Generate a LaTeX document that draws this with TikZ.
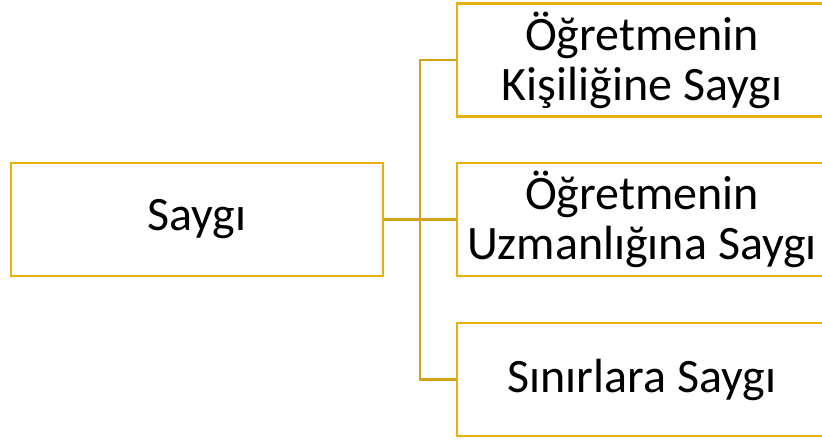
\documentclass[tikz,border=0pt]{standalone}
\usepackage{fontspec}
\setmainfont{Carlito}
\definecolor{boxgold}{RGB}{232,176,10}
\definecolor{linegold}{RGB}{212,162,22}
\begin{document}
\begin{tikzpicture}[x=1pt,y=-1pt,
  box/.style={draw=boxgold,line width=2.6pt,rectangle,inner sep=0pt,align=center,text=black,font=\fontsize{48}{50}\selectfont},
  leftbox/.style={box,minimum width=372pt,minimum height=113pt},
  rightbox/.style={box,minimum width=370pt,minimum height=113pt},
  conn/.style={draw=linegold,line width=2.6pt,line join=miter}]
\useasboundingbox (0,0) rectangle (822,441);
\clip (0,0) rectangle (822,441);
\node[leftbox] (L) at (197,219.5) {Saygı};
\node[rightbox] (A) at (642,60) {Öğretmenin\\Kişiliğine Saygı};
\node[rightbox] (B) at (642,219.5) {Öğretmenin\\Uzmanlığına Saygı};
\node[rightbox] (C) at (642,379.5) {Sınırlara Saygı};
\coordinate (j) at (420,219.5);
\draw[conn] (L.east) -- (B.west);
\draw[conn] (A.west) -| (j) |- (C.west);
\end{tikzpicture}
\end{document}
